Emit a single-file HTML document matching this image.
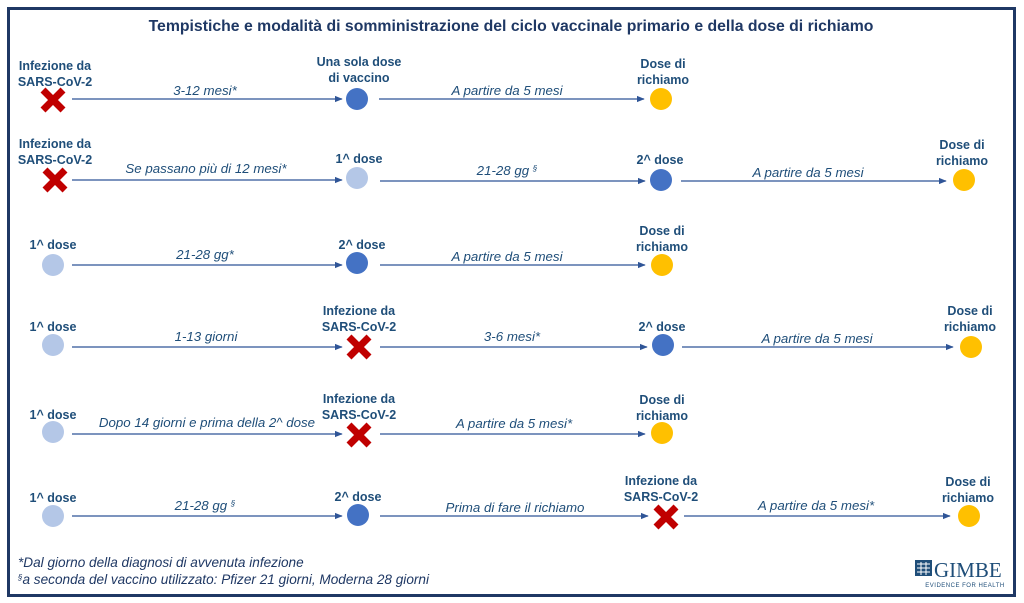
<!DOCTYPE html>
<html><head><meta charset="utf-8"><style>
html,body{margin:0;padding:0;background:#fff;}
svg{display:block;}
.t{font-family:"Liberation Sans",sans-serif;font-weight:bold;font-size:12.5px;fill:#1f4e79;text-anchor:middle;}
.e{font-family:"Liberation Sans",sans-serif;font-style:italic;font-size:13.3px;fill:#1f4e79;text-anchor:middle;}
.f{font-family:"Liberation Sans",sans-serif;font-style:italic;font-size:13.6px;fill:#1f3864;}
</style></head><body>
<svg width="1024" height="603" viewBox="0 0 1024 603" xmlns="http://www.w3.org/2000/svg">
<defs>
<marker id="a" viewBox="0 0 10 10" refX="9" refY="5" markerWidth="6" markerHeight="6" orient="auto"><path d="M0,1 L10,5 L0,9 z" fill="#2f5597"/></marker>
<g id="x"><path d="M-10,-10 L10,10 M10,-10 L-10,10" stroke="#c00000" stroke-width="7" stroke-linecap="butt"/></g>
</defs>
<rect x="8.5" y="8.5" width="1006" height="587" fill="#fff" stroke="#1f3864" stroke-width="3"/>
<text x="511" y="31" class="t" style="font-size:15.8px;fill:#1f3864">Tempistiche e modalità di somministrazione del ciclo vaccinale primario e della dose di richiamo</text>
<g stroke="#2f5597" stroke-width="1.3" fill="none" marker-end="url(#a)">
<line x1="72" y1="99" x2="342" y2="99"/><line x1="379" y1="99" x2="644" y2="99"/>
<line x1="72" y1="180" x2="342" y2="180"/><line x1="380" y1="181" x2="645" y2="181"/><line x1="681" y1="181" x2="946" y2="181"/>
<line x1="72" y1="265" x2="342" y2="265"/><line x1="380" y1="265" x2="645" y2="265"/>
<line x1="72" y1="347" x2="342" y2="347"/><line x1="380" y1="347" x2="647" y2="347"/><line x1="682" y1="347" x2="953" y2="347"/>
<line x1="72" y1="434" x2="342" y2="434"/><line x1="380" y1="434" x2="645" y2="434"/>
<line x1="72" y1="516" x2="342" y2="516"/><line x1="380" y1="516" x2="648" y2="516"/><line x1="684" y1="516" x2="950" y2="516"/>
</g>
<!-- row1 -->
<use href="#x" x="53" y="100"/><circle cx="357" cy="99" r="11" fill="#4472c4"/><circle cx="661" cy="99" r="11" fill="#ffc000"/>
<text x="55" y="70" class="t">Infezione da</text><text x="55" y="86" class="t">SARS-CoV-2</text>
<text x="359" y="66" class="t">Una sola dose</text><text x="359" y="82" class="t">di vaccino</text>
<text x="663" y="68" class="t">Dose di</text><text x="663" y="84" class="t">richiamo</text>
<text x="205" y="95" class="e">3-12 mesi*</text><text x="507" y="95" class="e">A partire da 5 mesi</text>
<!-- row2 -->
<use href="#x" x="55" y="180"/><circle cx="357" cy="178" r="11" fill="#b4c7e7"/><circle cx="661" cy="180" r="11" fill="#4472c4"/><circle cx="964" cy="180" r="11" fill="#ffc000"/>
<text x="55" y="148" class="t">Infezione da</text><text x="55" y="164" class="t">SARS-CoV-2</text>
<text x="359" y="163" class="t">1^ dose</text><text x="660" y="164" class="t">2^ dose</text>
<text x="962" y="149" class="t">Dose di</text><text x="962" y="165" class="t">richiamo</text>
<text x="206" y="173" class="e">Se passano più di 12 mesi*</text><text x="507" y="175" class="e">21-28 gg <tspan style="font-size:8px" dy="-4">§</tspan></text><text x="808" y="177" class="e">A partire da 5 mesi</text>
<!-- row3 -->
<circle cx="53" cy="265" r="11" fill="#b4c7e7"/><circle cx="357" cy="263" r="11" fill="#4472c4"/><circle cx="662" cy="265" r="11" fill="#ffc000"/>
<text x="53" y="249" class="t">1^ dose</text><text x="362" y="249" class="t">2^ dose</text>
<text x="662" y="235" class="t">Dose di</text><text x="662" y="251" class="t">richiamo</text>
<text x="205" y="259" class="e">21-28 gg*</text><text x="507" y="261" class="e">A partire da 5 mesi</text>
<!-- row4 -->
<circle cx="53" cy="345" r="11" fill="#b4c7e7"/><use href="#x" x="359" y="347"/><circle cx="663" cy="345" r="11" fill="#4472c4"/><circle cx="971" cy="347" r="11" fill="#ffc000"/>
<text x="53" y="331" class="t">1^ dose</text>
<text x="359" y="315" class="t">Infezione da</text><text x="359" y="331" class="t">SARS-CoV-2</text>
<text x="662" y="331" class="t">2^ dose</text>
<text x="970" y="315" class="t">Dose di</text><text x="970" y="331" class="t">richiamo</text>
<text x="206" y="341" class="e">1-13 giorni</text><text x="512" y="341" class="e">3-6 mesi*</text><text x="817" y="343" class="e">A partire da 5 mesi</text>
<!-- row5 -->
<circle cx="53" cy="432" r="11" fill="#b4c7e7"/><use href="#x" x="359" y="435"/><circle cx="662" cy="433" r="11" fill="#ffc000"/>
<text x="53" y="419" class="t">1^ dose</text>
<text x="359" y="403" class="t">Infezione da</text><text x="359" y="419" class="t">SARS-CoV-2</text>
<text x="662" y="404" class="t">Dose di</text><text x="662" y="420" class="t">richiamo</text>
<text x="207" y="427" class="e">Dopo 14 giorni e prima della 2^ dose</text><text x="514" y="428" class="e">A partire da 5 mesi*</text>
<!-- row6 -->
<circle cx="53" cy="516" r="11" fill="#b4c7e7"/><circle cx="358" cy="515" r="11" fill="#4472c4"/><use href="#x" x="666" y="517"/><circle cx="969" cy="516" r="11" fill="#ffc000"/>
<text x="53" y="502" class="t">1^ dose</text><text x="358" y="501" class="t">2^ dose</text>
<text x="661" y="485" class="t">Infezione da</text><text x="661" y="501" class="t">SARS-CoV-2</text>
<text x="968" y="486" class="t">Dose di</text><text x="968" y="502" class="t">richiamo</text>
<text x="205" y="510" class="e">21-28 gg <tspan style="font-size:8px" dy="-4">§</tspan></text><text x="515" y="512" class="e">Prima di fare il richiamo</text><text x="816" y="510" class="e">A partire da 5 mesi*</text>
<!-- footnotes -->
<text x="18" y="567" class="f">*Dal giorno della diagnosi di avvenuta infezione</text>
<text x="18" y="584" class="f"><tspan style="font-size:8px" dy="-4">§</tspan><tspan dy="4">a seconda del vaccino utilizzato: Pfizer 21 giorni, Moderna 28 giorni</tspan></text>
<!-- logo -->
<rect x="915" y="560" width="17" height="16" fill="#1f4e79"/>
<path d="M917,564h13M917,568h13M917,572h13M921,562v13M926,562v13" stroke="#fff" stroke-width="1"/>
<text x="934" y="577" style="font-family:'Liberation Serif',serif;font-size:21px;fill:#1f4e79">GIMBE</text>
<text x="965" y="587" style="font-family:'Liberation Sans',sans-serif;font-size:6px;fill:#1f4e79;text-anchor:middle;letter-spacing:0.5px">EVIDENCE FOR HEALTH</text>
</svg>
</body></html>
